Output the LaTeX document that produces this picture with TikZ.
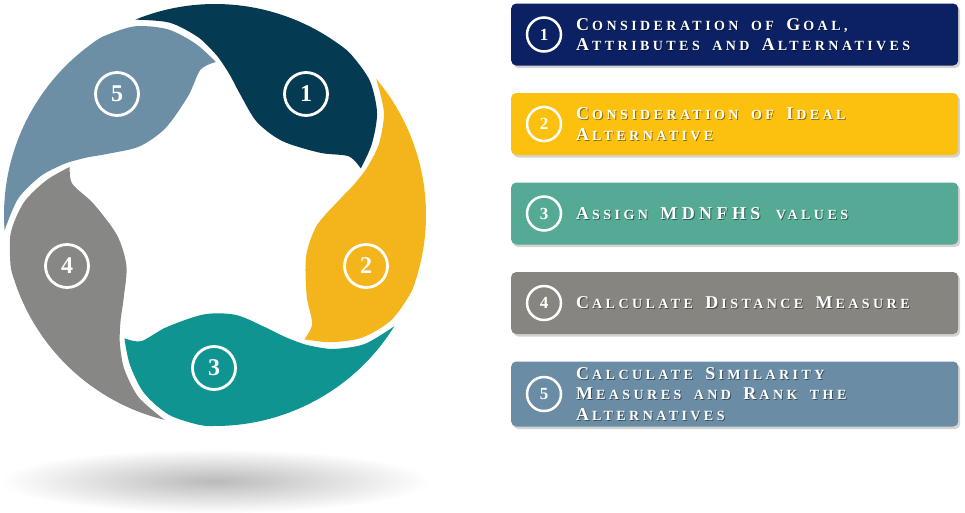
\documentclass[tikz,border=0pt]{standalone}
\usepackage{fontspec}
\setmainfont{Liberation Serif}
\newfontfamily\stepfont[LetterSpace=24.5, WordSpace=1.8]{Liberation Serif}
\usetikzlibrary{shadows}

% Wheel and box colours
\definecolor{wheelone}{HTML}{043A52}
\definecolor{wheeltwo}{HTML}{F4B41B}
\definecolor{wheelthree}{HTML}{0F9491}
\definecolor{wheelfour}{HTML}{878785}
\definecolor{wheelfive}{HTML}{6C8FA5}
\definecolor{boxone}{HTML}{0B2163}
\definecolor{boxtwo}{HTML}{FCC10F}
\definecolor{boxthree}{HTML}{54AA94}
\definecolor{boxfour}{HTML}{86857F}
\definecolor{boxfive}{HTML}{6A8DA5}
\colorlet{groundshadow}{black!27}

\pgfdeclareradialshading{groundshade}{\pgfpoint{0bp}{0bp}}{color(0bp)=(groundshadow); color(25bp)=(white); color(50bp)=(white)}

% large letter of the small caps
\newcommand\capl[1]{{\fontsize{18}{20.5}\selectfont #1}\kern3pt\relax}

\tikzset{
  stepbox/.style={rounded corners=5pt, inner sep=0pt, anchor=north west, minimum width=447pt,
    drop shadow={shadow xshift=2pt, shadow yshift=-2.5pt, opacity=0.35}},
  stepnum/.style={circle, draw=white, line width=2.5pt, minimum size=34pt, inner sep=0pt,
    text=white, font=\fontsize{17}{17}\selectfont\bfseries},
  steptext/.style={anchor=west, align=left, inner sep=0pt,
    font=\stepfont\bfseries\fontsize{14}{20.5}\selectfont},
  wheelnum/.style={circle, draw=white, line width=2.8pt, minimum size=43pt, inner sep=0pt,
    text=white, font=\fontsize{24}{24}\selectfont\bfseries}
}

\begin{document}
\begin{tikzpicture}[x=1pt, y=1pt]
    \useasboundingbox (0,0) rectangle (965,-512);

    % Ground shadow
    \shade[shading=groundshade] (215,-481) ellipse[x radius=215, y radius=32];

    % Wheel segments: inner edge, tail, outer arc, head
    \foreach \k/\col in {1/wheelone, 2/wheeltwo, 3/wheelthree, 4/wheelfour, 5/wheelfive}
    {
      \begin{scope}[shift={(215,-215)}, rotate={-72*(\k-1)}]
        \fill[\col] plot[smooth] coordinates {(17.7:153) (23.7:146) (30.7:122) (47.7:100) (65.7:102) (77.7:122) (83.7:140) (87.2:152) (89.2:159)}
          -- plot[smooth] coordinates {(89.2:159) (95.2:178) (103.2:197.5) (112.2:211)}
          arc[start angle=112.2, end angle=53.7, radius=211]
          -- plot[smooth] coordinates {(53.7:211) (49.7:210.5) (41:205) (32.2:191.5) (24.3:172) (17.7:153)}
          -- cycle;
      \end{scope}
    }

    % Wheel numbers
    \foreach \k/\x/\y in {1/306/94, 2/366/266, 3/214/368, 4/67/266, 5/117/94}
      \node[wheelnum] (wheelnum\k) at (\x,-\y) {\k};

    % Step boxes
    \foreach \i/\ytop/\bh/\col/\txt in {
      1/3.3/62/boxone/{\capl{C}ONSIDERATION OF \capl{G}OAL,\\\capl{A}TTRIBUTES AND \capl{A}LTERNATIVES},
      2/92.8/62/boxtwo/{\capl{C}ONSIDERATION OF \capl{I}DEAL\\\capl{A}LTERNATIVE},
      3/182.3/62/boxthree/{\capl{A}SSIGN \capl{MDNFHS} VALUES},
      4/271.8/62/boxfour/{\capl{C}ALCULATE \capl{D}ISTANCE \capl{M}EASURE},
      5/361.3/65/boxfive/{\capl{C}ALCULATE \capl{S}IMILARITY\\\capl{M}EASURES AND \capl{R}ANK THE\\\capl{A}LTERNATIVES}}
    {
      \node[stepbox, fill=\col, minimum height=\bh pt] (box\i) at (511,-\ytop) {};
      \node[stepnum] (num\i) at ([xshift=33pt]box\i.west) {\i};
      \node[steptext, text=black, text opacity=0.45] (txtshadow\i) at ([xshift=66pt, yshift=-1pt]box\i.west) {\txt};
      \node[steptext, text=white] (txt\i) at ([xshift=65pt]box\i.west) {\txt};
    }

\end{tikzpicture}
\end{document}
